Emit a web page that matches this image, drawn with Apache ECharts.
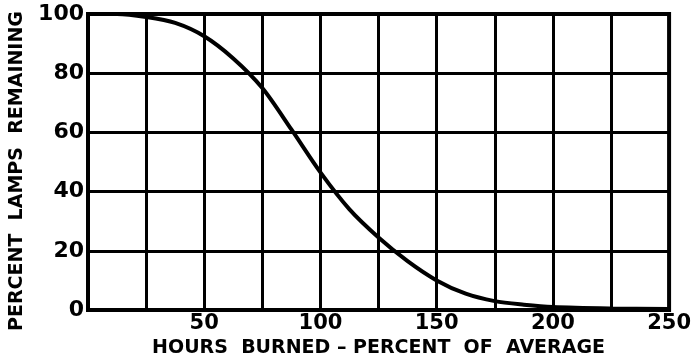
<!DOCTYPE html>
<html>
<head>
<meta charset="utf-8">
<script src="https://cdn.jsdelivr.net/npm/echarts@6/dist/echarts.min.js"></script>
<style>
  html, body { margin: 0; padding: 0; background: #fff; }
  #chart { width: 694px; height: 363px; }
</style>
</head>
<body>
<div id="chart"></div>
<script>
// Lamp mortality: hours burned (percent of average life) vs. percent of lamps still burning
const hoursBurned = [0, 12.5, 25, 37.5, 50, 62.5, 75, 87.5, 100, 112.5, 125, 137.5, 150, 162.5, 175, 187.5, 200, 225, 250];
const lampsRemaining = [100, 100, 99, 97, 92.5, 85, 75, 61, 46.5, 34, 24.5, 16.5, 10, 5.5, 3, 1.8, 1, 0.5, 0.3];
const xTickLabels = [50, 100, 150, 200, 250];
const yTickLabels = [0, 20, 40, 60, 80, 100];

const FONT = '"DejaVu Sans", sans-serif';
const INK = '#000';

const chart = echarts.init(document.getElementById('chart'), null, { renderer: 'canvas' });

chart.setOption({
  animation: false,
  backgroundColor: '#fff',
  grid: {
    left: 87, right: 23, top: 14, bottom: 53,
    show: true, borderColor: INK, borderWidth: 4, backgroundColor: 'transparent'
  },
  xAxis: {
    type: 'value',
    min: 0, max: 250, interval: 25,
    name: 'HOURS  BURNED – PERCENT  OF  AVERAGE',
    nameLocation: 'middle',
    nameGap: 26,
    nameTextStyle: { color: INK, fontFamily: FONT, fontSize: 19, fontWeight: 'bold' },
    axisLine: { show: true, lineStyle: { color: INK, width: 4 } },
    axisTick: { show: false },
    splitLine: { show: true, lineStyle: { color: INK, width: 3 } },
    axisLabel: {
      color: INK, fontFamily: FONT, fontSize: 21, fontWeight: 'bold', margin: 3,
      formatter: v => (xTickLabels.indexOf(v) >= 0 ? String(v) : '')
    }
  },
  yAxis: {
    type: 'value',
    min: 0, max: 100, interval: 20,
    name: 'PERCENT  LAMPS  REMAINING',
    nameLocation: 'middle',
    nameGap: 61,
    nameTextStyle: {
      color: INK, fontFamily: FONT, fontSize: 19, fontWeight: 'bold',
      padding: [0, 18, 0, 0]
    },
    axisLine: { show: true, lineStyle: { color: INK, width: 4 } },
    axisTick: { show: false },
    splitLine: { show: true, lineStyle: { color: INK, width: 3 } },
    axisLabel: {
      color: INK, fontFamily: FONT, fontSize: 22, fontWeight: 'bold', margin: 4,
      formatter: v => (yTickLabels.indexOf(v) >= 0 ? String(v) : '')
    }
  },
  series: [{
    type: 'line',
    data: hoursBurned.map((h, i) => [h, lampsRemaining[i]]),
    smooth: 0.3,
    showSymbol: false,
    lineStyle: { color: INK, width: 4 },
    z: 5
  }]
});
</script>
</body>
</html>
